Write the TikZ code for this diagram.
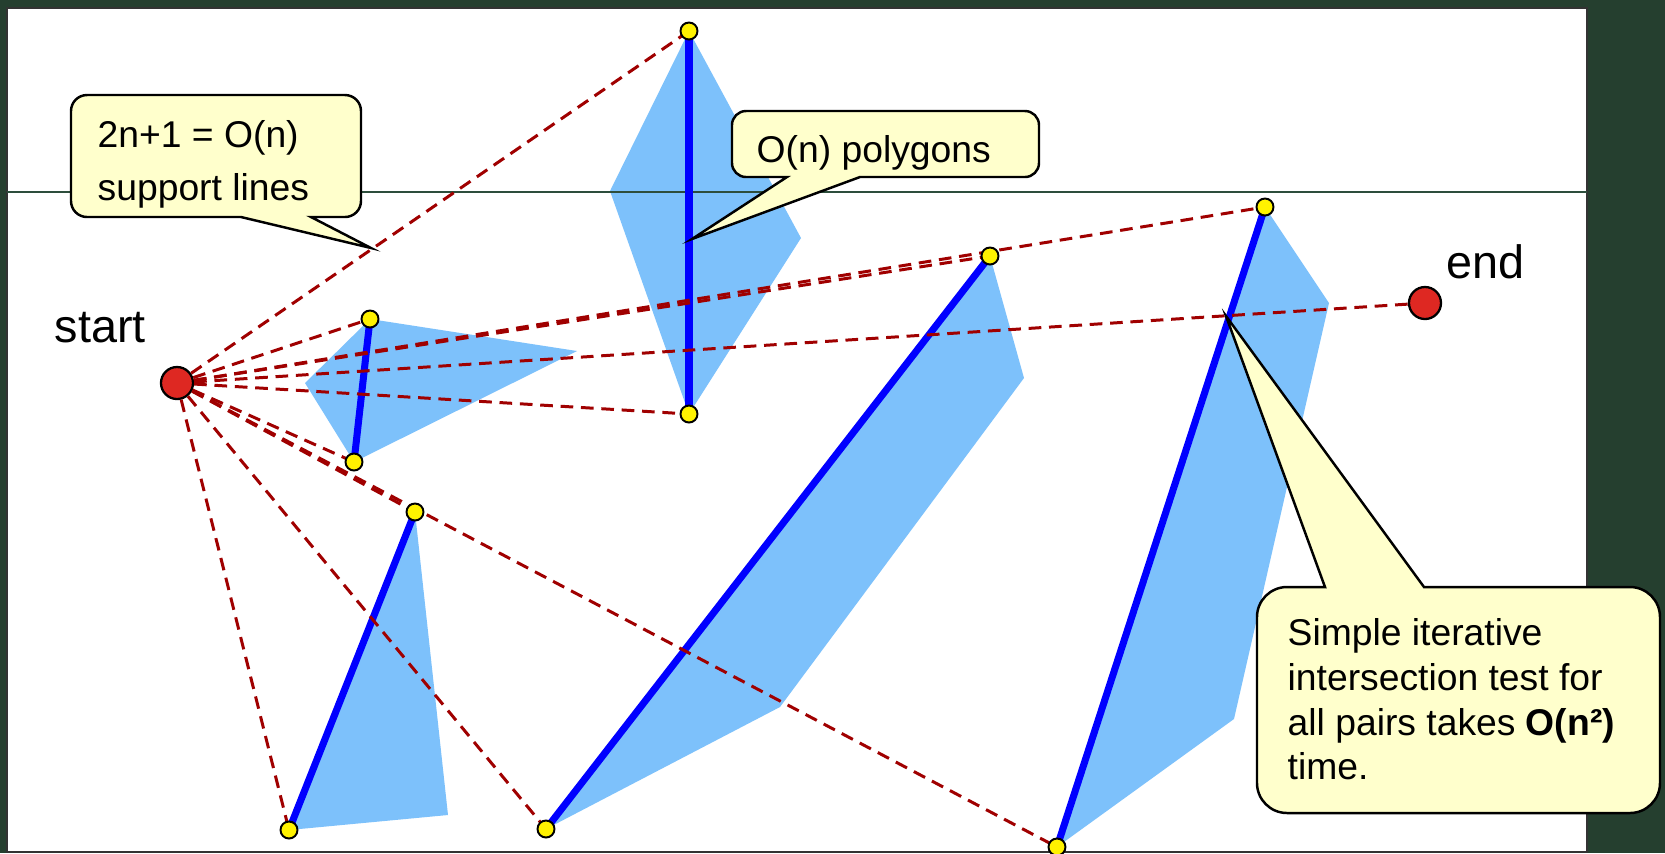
\documentclass[tikz,border=0pt]{standalone}
\usepackage{fontspec}
\setmainfont{Liberation Sans}

\definecolor{board}{RGB}{37,63,47}
\definecolor{rulegreen}{RGB}{45,78,60}
\definecolor{shadowblue}{RGB}{125,193,251}
\definecolor{supportred}{RGB}{160,0,0}
\definecolor{pointred}{RGB}{222,40,34}
\definecolor{noteyellow}{RGB}{255,255,204}

\begin{document}
\begin{tikzpicture}[
    x=0.01cm, y=-0.01cm,
    shadow/.style={fill=shadowblue},
    seg/.style={draw=blue, line width=2pt},
    support/.style={draw=supportred, line width=0.85pt, dash pattern=on 3.6pt off 2.2pt},
    vertex/.style={circle, draw=black, line width=0.55pt, fill=yellow, inner sep=0pt, minimum size=0.17cm},
    endpoint/.style={circle, draw=black, line width=0.65pt, fill=pointred, inner sep=0pt, minimum size=0.32cm},
    tag/.style={font=\fontsize{13.3}{16}\selectfont, inner sep=0pt, anchor=base west},
    bubble/.style={draw=black, line width=0.7pt, fill=noteyellow},
    notetext/.style={font=\fontsize{10.6}{#1}\selectfont, align=left, inner sep=0pt, anchor=north west}
]
    \useasboundingbox (0,0) rectangle (1665,853);

    % Fond et panneau
    \fill[board] (0,0) rectangle (1665,853);
    \filldraw[fill=white, draw=black!80, line width=0.6pt] (7,8) rectangle (1587,852);

    % Extrémités des segments
    \coordinate (A1) at (370,319);  \coordinate (A2) at (354,462);
    \coordinate (B1) at (689,31);   \coordinate (B2) at (689,414);
    \coordinate (C1) at (990,256);  \coordinate (C2) at (546,829);
    \coordinate (D1) at (1265,207); \coordinate (D2) at (1057,847);
    \coordinate (E1) at (415,512);  \coordinate (E2) at (289,830);

    % Polygones
    \fill[shadow] (A1) -- (577,351) -- (A2) -- (305,383) -- cycle;
    \fill[shadow] (B1) -- (801,238) -- (B2) -- (610,191) -- cycle;
    \fill[shadow] (C1) -- (1024,378) -- (780,707) -- (C2) -- cycle;
    \fill[shadow] (D1) -- (1329,303) -- (1234,719) -- (D2) -- cycle;
    \fill[shadow] (E1) -- (448,815) -- (E2) -- cycle;

    \draw[rulegreen, line width=0.3pt] (7,192) -- (1587,192);

    % Segments
    \draw[seg] (A1) -- (A2);
    \draw[seg] (B1) -- (B2);
    \draw[seg] (C1) -- (C2);
    \draw[seg] (D1) -- (D2);
    \draw[seg] (E1) -- (E2);

    % Départ et arrivée
    \node[endpoint] (start) at (177,383) {};
    \node[endpoint] (end) at (1425,303) {};
    \node[tag] (startlabel) at (54,342) {start};
    \node[tag] (endlabel) at (1446,278) {end};

    % Lignes de support
    \foreach \v in {A1,A2,B1,B2,C1,C2,D1,D2,E1,E2}
        \draw[support] (start) -- (\v);
    \draw[support] (start) -- (end);

    \foreach \v in {A1,A2,B1,B2,C1,C2,D1,D2,E1,E2}
        \node[vertex] (dot\v) at (\v) {};

    % Bulles
    \coordinate (tipA) at (371,248);
    \coordinate (tipB) at (692,239);
    \coordinate (tipC) at (1226,316);

    \draw[bubble, rounded corners=0.16cm] (71,156) -- (71,217) [sharp corners] -- (241,217) -- (tipA) -- (311,217)
        [rounded corners=0.16cm] -- (361,217) -- (361,95) -- (71,95) -- cycle;
    \node[notetext=15.1] (noteA) at (97,120) {2n+1 = O(n)\\support lines};

    \draw[bubble, rounded corners=0.14cm] (732,144) -- (732,177) [sharp corners] -- (787,177) -- (tipB) -- (860,177)
        [rounded corners=0.14cm] -- (1039,177) -- (1039,111) -- (732,111) -- cycle;
    \node[notetext=12.7, anchor=base west] (noteB) at (756,162) {O(n) polygons};

    \draw[bubble, rounded corners=0.3cm] (1257,700) -- (1257,587) [sharp corners] -- (1325,587) -- (tipC) -- (1424,587)
        [rounded corners=0.3cm] -- (1660,587) -- (1660,813) -- (1257,813) -- cycle;
    \node[notetext=12.7] (noteC) at (1287,618) {Simple iterative\\intersection test for\\all pairs takes \textbf{O(n²)}\\time.};

\end{tikzpicture}
\end{document}
